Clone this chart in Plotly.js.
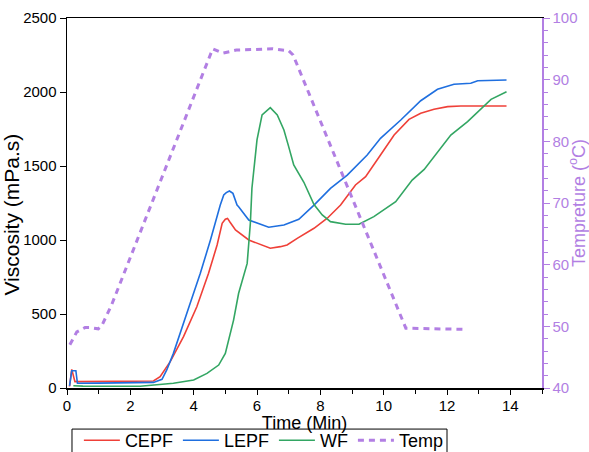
<!DOCTYPE html>
<html>
<head>
<meta charset="utf-8">
<script src="https://cdn.plot.ly/plotly-3.0.1.min.js"></script>
<style>html,body{margin:0;padding:0;background:#fff;}#chart{width:589px;height:452px;}</style>
</head>
<body>
<div id="chart"></div>
<script>
// Viscosity (mPa.s) vs time (min)
const cepfTime = [0.08,0.15,0.25,0.5,1.5,2.73,2.94,3.26,3.68,4.1,4.47,4.74,4.9,5.0,5.07,5.15,5.32,5.74,6.42,6.74,6.95,7.27,7.8,8.22,8.64,9.11,9.43,9.9,10.33,10.8,11.17,11.59,12.02,12.44,13.88];
const cepfVisc = [10,126,43,44,45,47,76,178,347,549,775,966,1113,1140,1146,1120,1068,1000,944,955,966,1011,1079,1147,1236,1372,1428,1574,1709,1815,1856,1883,1901,1905,1905];

const lepfTime = [0.08,0.15,0.28,0.33,1.0,2.31,2.73,3.0,3.15,3.36,3.63,3.89,4.21,4.53,4.84,4.95,5.03,5.13,5.24,5.37,5.42,5.74,6.37,6.85,7.32,7.8,8.32,8.85,9.48,9.9,10.54,11.17,11.7,12.22,12.75,12.97,13.88];
const lepfVisc = [15,117,117,32,33,36,38,59,122,234,414,572,775,1000,1236,1304,1320,1331,1315,1236,1225,1135,1086,1101,1140,1236,1349,1439,1574,1687,1811,1941,2018,2052,2059,2076,2081];

const wfTime = [0.2,0.5,2.31,3.36,4.0,4.42,4.79,5.0,5.26,5.42,5.69,5.79,5.84,6.0,6.16,6.42,6.64,6.85,7.0,7.16,7.48,7.8,8.06,8.32,8.8,9.22,9.69,10.38,10.9,11.28,12.12,12.65,13.39,13.88];
const wfVisc = [15,13,12,32,54,99,155,234,459,640,842,1113,1350,1676,1845,1894,1845,1743,1631,1507,1390,1240,1169,1124,1106,1106,1158,1259,1405,1477,1709,1800,1950,2002];

// Temperature (°C) vs time (min)
const tempTime = [0.09,0.31,0.57,0.73,0.99,1.1,1.41,4.6,4.92,5.35,6.5,7.0,7.14,10.7,12.6];
const tempVal  = [47.0,49.1,49.8,49.8,49.6,50.1,53.5,95.0,94.3,94.8,95.0,94.7,94.0,49.7,49.5];

const xTicks = [0,2,4,6,8,10,12,14];
const yTicks = [0,500,1000,1500,2000,2500];
const y2Ticks = [40,50,60,70,80,90,100];

const FONT = 'Arial, "Liberation Sans", sans-serif';
const PURPLE = '#b27fe3';

const traces = [
  {x: cepfTime, y: cepfVisc, name: 'CEPF', mode: 'lines', line: {color: '#ef4038', width: 1.6}},
  {x: lepfTime, y: lepfVisc, name: 'LEPF', mode: 'lines', line: {color: '#1f6fdf', width: 1.6}},
  {x: wfTime, y: wfVisc, name: 'WF', mode: 'lines', line: {color: '#33a663', width: 1.6}},
  {x: tempTime, y: tempVal, name: 'Temp', mode: 'lines', yaxis: 'y2', line: {color: PURPLE, width: 3, dash: '6px,5px'}}
];

const layout = {
  width: 589, height: 452,
  margin: {l: 67, r: 47, t: 18, b: 64, autoexpand: false},
  paper_bgcolor: '#fff', plot_bgcolor: '#fff',
  font: {family: FONT, size: 15, color: '#000'},
  showlegend: true,
  legend: {
    orientation: 'h', x: 0.025, xanchor: 'left', y: -0.092, yanchor: 'top',
    borderwidth: 0, bgcolor: 'rgba(0,0,0,0)', itemwidth: 36,
    font: {family: FONT, size: 18, color: '#000'}, traceorder: 'normal'
  },
  shapes: [
    {type: 'rect', xref: 'paper', yref: 'paper', x0: 0.0105, x1: 0.8, y0: -0.111, y1: -0.3,
     line: {color: '#000', width: 1}, fillcolor: 'rgba(0,0,0,0)', layer: 'below'}
  ],
  xaxis: {
    range: [0, 15], tickvals: xTicks, ticktext: xTicks.map(String),
    showgrid: false, zeroline: false, showline: true, linecolor: '#000', linewidth: 1.5,
    mirror: true, ticks: 'outside', ticklen: 5, tickcolor: '#000', tickwidth: 1,
    ticklabelstandoff: -2,
    minor: {dtick: 1, tick0: 0, ticks: 'outside', ticklen: 4, tickcolor: '#000', showgrid: false},
    tickfont: {size: 15},
    title: {text: 'Time (Min)', font: {size: 18}, standoff: 0}
  },
  yaxis: {
    range: [0, 2500], tickvals: yTicks, ticktext: yTicks.map(String),
    showgrid: false, zeroline: false, showline: true, linecolor: '#000', linewidth: 1.5,
    ticks: 'outside', ticklen: 6, tickcolor: '#000', tickwidth: 1,
    tickfont: {size: 15},
    title: {text: 'Viscosity (mPa.s)<span style="color:rgba(0,0,0,0)">__</span>', font: {size: 21}, standoff: 0}
  },
  yaxis2: {
    overlaying: 'y', side: 'right', range: [40, 100],
    tickvals: y2Ticks, ticktext: y2Ticks.map(String),
    showgrid: false, zeroline: false, showline: true, linecolor: PURPLE, linewidth: 1.5,
    ticks: 'outside', ticklen: 6, tickcolor: PURPLE, tickwidth: 1,
    minor: {dtick: 2, tick0: 40, ticks: 'outside', ticklen: 4, tickcolor: PURPLE, showgrid: false},
    tickfont: {size: 15, color: PURPLE},
    title: {text: 'Tempreture (<sup>o</sup>C)', font: {size: 18, color: PURPLE}, standoff: 8}
  }
};

Plotly.newPlot('chart', traces, layout, {displayModeBar: false, staticPlot: true});
</script>
</body>
</html>
